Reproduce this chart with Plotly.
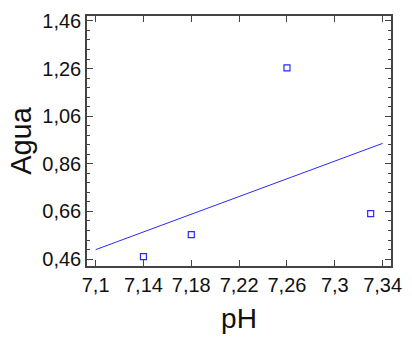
import numpy as np
import plotly.graph_objects as go

ph = [7.14, 7.18, 7.26, 7.33]
agua = [0.47, 0.5625, 1.263, 0.651]
x_ticks = [7.10, 7.14, 7.18, 7.22, 7.26, 7.30, 7.34]
x_labels = ["7,1", "7,14", "7,18", "7,22", "7,26", "7,3", "7,34"]
y_ticks = [0.46, 0.66, 0.86, 1.06, 1.26, 1.46]
y_labels = ["0,46", "0,66", "0,86", "1,06", "1,26", "1,46"]

slope, intercept = np.polyfit(ph, agua, 1)
fit_x = np.array([x_ticks[0], x_ticks[-1]])
fit_y = slope * fit_x + intercept

fig = go.Figure()
fig.add_trace(go.Scatter(x=fit_x, y=fit_y, mode="lines",
                         line=dict(color="#2a2aff", width=1), showlegend=False))
fig.add_trace(go.Scatter(x=ph, y=agua, mode="markers",
                         marker=dict(symbol="square-open", size=6, color="#2a2aff",
                                     line=dict(width=1.2)), showlegend=False))

axis_common = dict(showgrid=False, zeroline=False, showline=True, linecolor="#444",
                   linewidth=1.5, mirror="ticks", ticks="inside", tickcolor="#444",
                   tickwidth=1, ticklen=6,
                   tickfont=dict(family="Liberation Sans, Arial", size=20, color="#111"))

fig.update_xaxes(range=[7.0928, 7.347], tickvals=x_ticks, ticktext=x_labels,
                 title=dict(text="pH", font=dict(family="Liberation Sans, Arial", size=28, color="#111"),
                            standoff=14),
                 **axis_common)
fig.update_yaxes(range=[0.431, 1.4805], tickvals=y_ticks, ticktext=y_labels,
                 minor=dict(dtick=0.04, tick0=0.46, ticks="inside", ticklen=3, tickcolor="#444"),
                 title=dict(text="Agua", font=dict(family="Liberation Sans, Arial", size=29, color="#111"),
                            standoff=2),
                 **axis_common)

fig.update_layout(width=412, height=345, margin=dict(l=87, r=16, t=10, b=79),
                  plot_bgcolor="white", paper_bgcolor="white")
fig.write_html("out.html")
